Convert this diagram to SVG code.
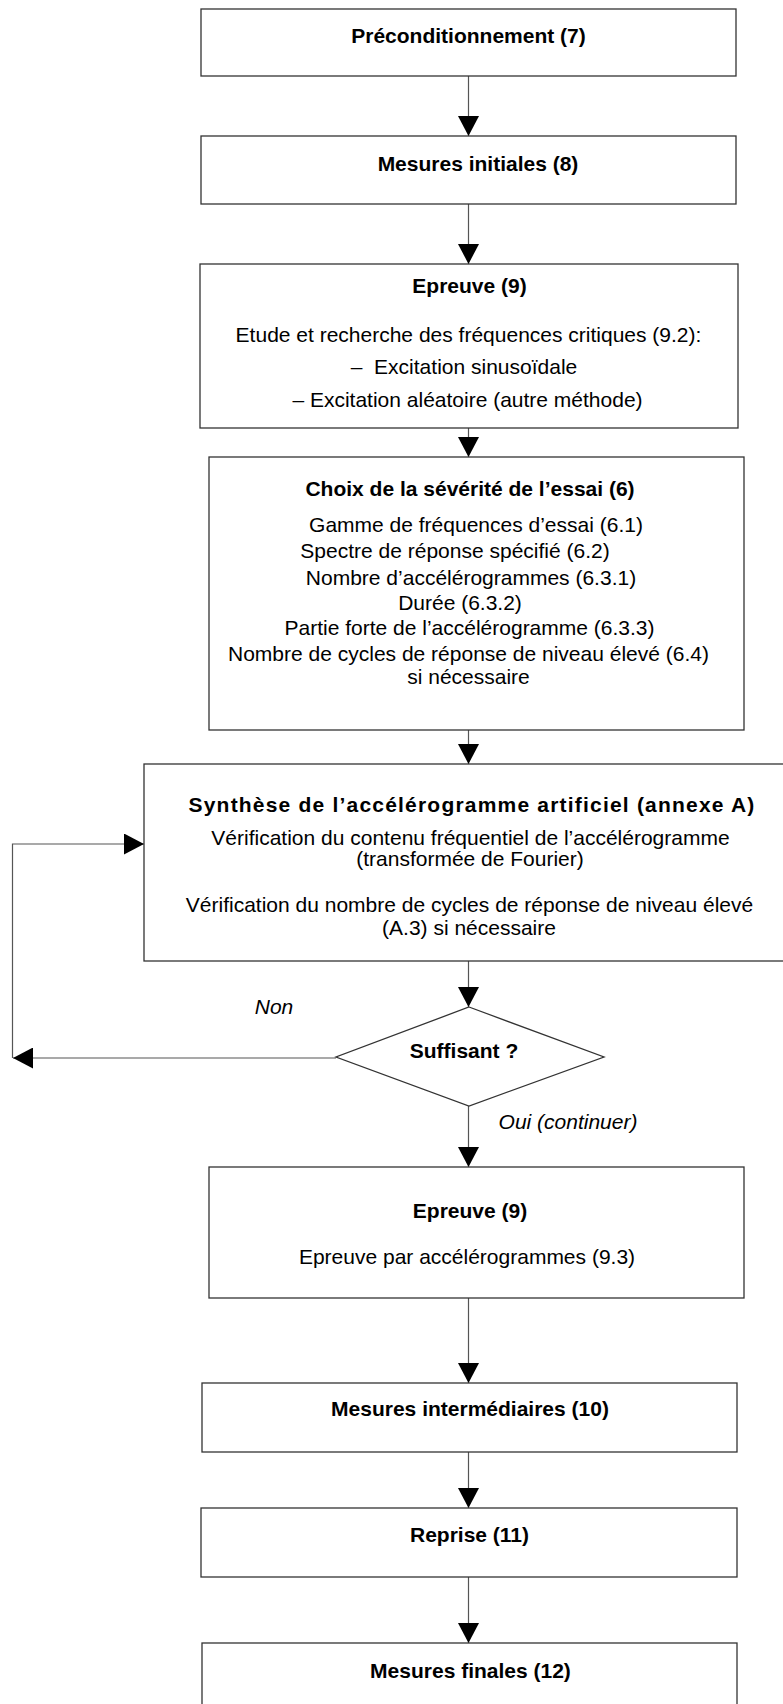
<svg xmlns="http://www.w3.org/2000/svg" width="783" height="1704" viewBox="0 0 783 1704">
<style>
  .box { fill: #ffffff; stroke: #333333; stroke-width: 1.3; }
  .conn { fill: none; stroke: #555555; stroke-width: 1.2; }
  text { font-family: "Liberation Sans", Arial, sans-serif; font-size: 21px; fill: #000000; text-anchor: middle; }
  .b { font-weight: bold; }
  .i { font-style: italic; }
  .sp { letter-spacing: 1.2px; }
</style>
<defs>
  <marker id="ah" markerUnits="userSpaceOnUse" markerWidth="20" markerHeight="21" refX="20" refY="10.5" orient="auto">
    <path d="M0,0 L20,10.5 L0,21 Z" fill="#000000"/>
  </marker>
</defs>
<rect width="783" height="1704" fill="#ffffff"/>

<g id="connectors">
  <line class="conn" x1="468.5" y1="76" x2="468.5" y2="136" marker-end="url(#ah)"/>
  <line class="conn" x1="468.5" y1="204" x2="468.5" y2="264" marker-end="url(#ah)"/>
  <line class="conn" x1="468.5" y1="428" x2="468.5" y2="457" marker-end="url(#ah)"/>
  <line class="conn" x1="468.5" y1="730" x2="468.5" y2="764" marker-end="url(#ah)"/>
  <line class="conn" x1="468.5" y1="961" x2="468.5" y2="1007" marker-end="url(#ah)"/>
  <line class="conn" x1="468.5" y1="1106" x2="468.5" y2="1167" marker-end="url(#ah)"/>
  <line class="conn" x1="468.5" y1="1298" x2="468.5" y2="1383" marker-end="url(#ah)"/>
  <line class="conn" x1="468.5" y1="1452" x2="468.5" y2="1508" marker-end="url(#ah)"/>
  <line class="conn" x1="468.5" y1="1577" x2="468.5" y2="1643" marker-end="url(#ah)"/>
  <line class="conn" x1="336" y1="1058" x2="13" y2="1058" stroke="#000" marker-end="url(#ah)"/>
  <polyline class="conn" points="12.5,1058 12.5,844 144,844" stroke="#000" marker-end="url(#ah)"/>
  <text class="i" x="274" y="1014">Non</text>
  <text class="i" x="568" y="1129">Oui (continuer)</text>
</g>

<g id="n1">
  <rect class="box" x="201" y="9" width="535" height="67"/>
  <text class="b" x="468.5" y="43">Préconditionnement (7)</text>
</g>
<g id="n2">
  <rect class="box" x="201" y="136" width="535" height="68"/>
  <text class="b" x="478" y="171">Mesures initiales (8)</text>
</g>
<g id="n3">
  <rect class="box" x="200" y="264" width="538" height="164"/>
  <text class="b" x="469.5" y="293">Epreuve (9)</text>
  <text x="468.5" y="342">Etude et recherche des fréquences critiques (9.2):</text>
  <text x="464" y="374" xml:space="preserve">–  Excitation sinusoïdale</text>
  <text x="467.5" y="407">– Excitation aléatoire (autre méthode)</text>
</g>
<g id="n4">
  <rect class="box" x="209" y="457" width="535" height="273"/>
  <text class="b" x="470" y="496">Choix de la sévérité de l’essai (6)</text>
  <text x="476" y="532">Gamme de fréquences d’essai (6.1)</text>
  <text x="455" y="558">Spectre de réponse spécifié (6.2)</text>
  <text x="471" y="585">Nombre d’accélérogrammes (6.3.1)</text>
  <text x="460" y="610">Durée (6.3.2)</text>
  <text x="469.5" y="635">Partie forte de l’accélérogramme (6.3.3)</text>
  <text x="468.5" y="661">Nombre de cycles de réponse de niveau élevé (6.4)</text>
  <text x="468.5" y="684">si nécessaire</text>
</g>
<g id="n5">
  <rect class="box" x="144" y="764" width="651" height="197"/>
  <text class="b sp" x="472" y="812">Synthèse de l’accélérogramme artificiel (annexe A)</text>
  <text x="470.5" y="845">Vérification du contenu fréquentiel de l’accélérogramme</text>
  <text x="470" y="866">(transformée de Fourier)</text>
  <text x="469.5" y="912">Vérification du nombre de cycles de réponse de niveau élevé</text>
  <text x="469" y="935">(A.3) si nécessaire</text>
</g>
<g id="n6">
  <polygon class="box" points="469,1007 604,1057 469,1106 336,1057" stroke-width="1.1"/>
  <text class="b" x="464" y="1058">Suffisant ?</text>
</g>
<g id="n7">
  <rect class="box" x="209" y="1167" width="535" height="131"/>
  <text class="b" x="470" y="1218">Epreuve (9)</text>
  <text x="467" y="1264">Epreuve par accélérogrammes (9.3)</text>
</g>
<g id="n8">
  <rect class="box" x="202" y="1383" width="535" height="69"/>
  <text class="b" x="470" y="1416">Mesures intermédiaires (10)</text>
</g>
<g id="n9">
  <rect class="box" x="201" y="1508" width="536" height="69"/>
  <text class="b" x="469.5" y="1542">Reprise (11)</text>
</g>
<g id="n10">
  <rect class="box" x="202" y="1643" width="535" height="69"/>
  <text class="b" x="470.5" y="1678">Mesures finales (12)</text>
</g>
</svg>
